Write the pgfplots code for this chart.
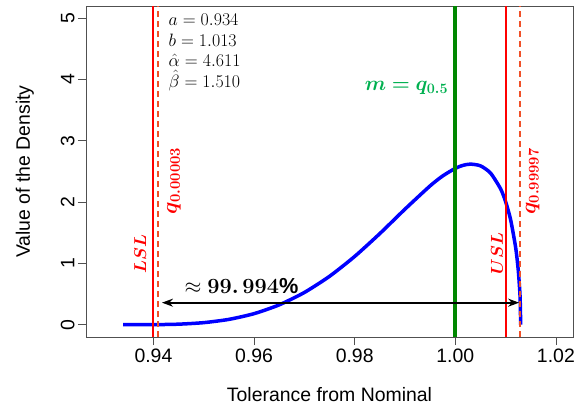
\documentclass[border=0pt]{standalone}
\usepackage[no-math]{fontspec}
\setmainfont{Liberation Sans}
\usepackage{bm}
\usepackage{pgfplots}
\pgfplotsset{compat=1.18}
\usetikzlibrary{arrows.meta}

\definecolor{limred}{RGB}{255,0,0}
\definecolor{qorange}{RGB}{240,80,40}
\definecolor{medgreen}{RGB}{0,135,0}
\definecolor{lblgreen}{RGB}{0,176,80}
\definecolor{axgray}{RGB}{80,80,80}

% beta density on [a,b], alpha=4.611, beta=1.510
\pgfplotstableread{
x        y
0.9340   0.0000
0.9370   0.0001
0.9400   0.0011
0.9450   0.0092
0.9500   0.0342
0.9550   0.0875
0.9600   0.1807
0.9650   0.3243
0.9700   0.5262
0.9750   0.7899
0.9800   1.1140
0.9850   1.4870
0.9900   1.8856
0.9950   2.2659
0.9975   2.4274
1.0000   2.5515
1.0015   2.5994
1.0030   2.6205
1.0050   2.5928
1.0070   2.4752
1.0090   2.2186
1.0100   2.0097
1.0110   1.7132
1.0120   1.2607
1.0125   0.9061
1.0128   0.5757
1.0129   0.4061
1.0130   0.0000
}\densitytable

\newcommand{\annlarge}{\fontsize{20.74}{21}\selectfont}
\newcommand{\annmid}{\fontsize{17.28}{18}\selectfont}

\begin{document}
\begin{tikzpicture}
\useasboundingbox (-86bp,-72bp) rectangle (498bp,337bp);
\begin{axis}[
    scale only axis, width=487bp, height=331bp,
    xmin=0.9266, xmax=1.0234, ymin=-0.2, ymax=5.2,
    xtick={0.94,0.96,0.98,1.00,1.02}, ytick={0,1,2,3,4,5},
    tick align=outside, xtick pos=bottom, ytick pos=left,
    major tick length=8bp,
    axis line style={axgray, line width=0.8pt},
    every tick/.style={axgray, line width=0.8pt},
    xticklabel style={/pgf/number format/.cd, fixed, fixed zerofill, precision=2},
    /pgf/number format/assume math mode=true,
    ticklabel style={font=\fontsize{19.5}{19.5}\selectfont},
    yticklabel style={rotate=90, anchor=south},
    xlabel={Tolerance from Nominal}, ylabel={Value of the Density},
    label style={font=\fontsize{19.5}{19.5}\selectfont},
    xlabel style={at={(axis description cs:0.5,-0.1752)}, anchor=center},
    ylabel style={at={(axis description cs:-0.1253,0.5)}, anchor=center},
    clip=false,
]
    % density curve
    \addplot[blue, line width=3.5bp, smooth, tension=0.4] table[x=x, y=y] {\densitytable};

    % specification limits
    \addplot[limred, line width=2bp] coordinates {(0.940,-0.2) (0.940,5.2)};
    \addplot[limred, line width=2bp] coordinates {(1.010,-0.2) (1.010,5.2)};
    % quantiles
    \addplot[qorange, line width=2bp, dash pattern=on 6bp off 4bp] coordinates {(0.9410,-0.2) (0.9410,5.2)};
    \addplot[qorange, line width=2bp, dash pattern=on 6bp off 4bp] coordinates {(1.0129,-0.2) (1.0129,5.2)};
    % median
    \addplot[medgreen, line width=3.8bp] coordinates {(1.000,-0.2) (1.000,5.2)};

    % coverage arrow
    \addplot[black, line width=1.8bp, {Stealth[length=11bp,width=8bp]}-{Stealth[length=11bp,width=8bp]}]
        coordinates {(0.9417,0.36) (1.0127,0.36)};

    \node[font=\annlarge, scale=1.05] at (axis cs:0.9575,0.63) {$\approx\bm{99.\,994}\textbf{\%}$};

    \node[font=\annlarge, text=lblgreen] at (axis cs:0.9903,3.87) {$\bm{m=q_{0.5}}$};

    \node[rotate=90, font=\annmid, text=limred] at (axis cs:0.9374,1.15) {$\bm{LSL}$};
    \node[rotate=90, font=\annmid, text=limred] at (axis cs:1.0083,1.16) {$\bm{USL}$};
    \node[rotate=90, font=\annlarge, scale=1.03, text=limred] at (axis cs:0.9441,2.35) {$\bm{q_{0.00003}}$};
    \node[rotate=90, font=\annlarge, scale=1.03, text=limred] at (axis cs:1.0154,2.34) {$\bm{q_{0.99997}}$};

    \node[anchor=west, inner sep=0pt, font=\annmid, scale=1.04] at (axis cs:0.9430,4.97) {$a=0.934$};
    \node[anchor=west, inner sep=0pt, font=\annmid, scale=1.04] at (axis cs:0.9430,4.64) {$b=1.013$};
    \node[anchor=west, inner sep=0pt, font=\annmid, scale=1.04] at (axis cs:0.9430,4.31) {$\hat{\alpha}=4.611$};
    \node[anchor=west, inner sep=0pt, font=\annmid, scale=1.04] at (axis cs:0.9430,3.99) {$\hat{\beta}=1.510$};
\end{axis}
\end{tikzpicture}
\end{document}
